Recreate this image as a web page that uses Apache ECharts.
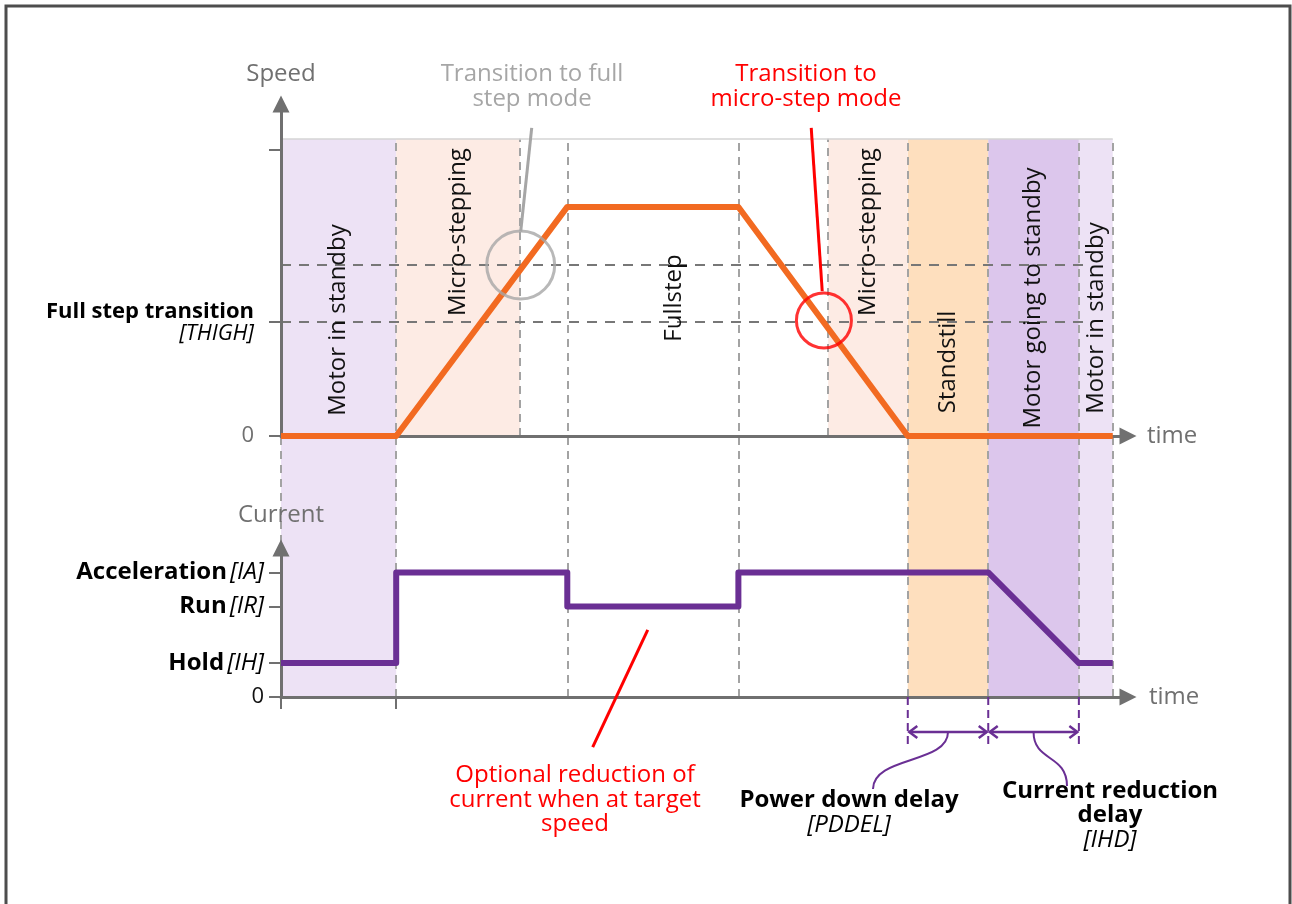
<!DOCTYPE html>
<html><head><meta charset="utf-8">
<script src="https://cdn.jsdelivr.net/npm/echarts@6/dist/echarts.min.js"></script>
<style>html,body{margin:0;padding:0;background:#fff}#c{width:1292px;height:904px}</style>
</head><body><div id="c"></div>
<script>
// ---------- DATA ----------
// phase boundaries along the time axis
const phaseEdges = [0, 13.6, 28.2, 64.6, 74.0, 83.5, 94.2, 98.2];
const phaseNames = ['Motor in standby', 'Micro-stepping', 'Fullstep', 'Micro-stepping', 'Standstill', 'Motor going to standby', 'Motor in standby'];
// dashed time markers spanning both panels / only the speed panel
const fullMarkerTimes = [0, 13.6, 33.8, 54.0, 74.0, 83.5, 94.2, 98.2];
const speedOnlyMarkerTimes = [28.2, 64.6];
// speed profile
const speedTimes = [0, 13.6, 33.8, 54.0, 74.0, 98.2];
const speedValues = [0, 0, 69.0, 69.0, 0, 0];
const speedTop = 89.5;            // top of shaded area
const speedUpperTick = 86.1;      // unlabeled tick
const fullStepUpThreshold = 51.5; // transition to full step
const thighValue = 34.3;          // THIGH
const thresholdEndTime = 94.7;
// current profile
const currentTimes = [0, 13.6, 13.6, 33.8, 33.8, 54.0, 54.0, 83.5, 94.2, 98.2];
const currentValues = [22.8, 22.8, 83.6, 83.6, 60.7, 60.7, 83.6, 83.6, 22.8, 22.8];
const currentLevelValues = [22.8, 60.7, 83.6];
const currentLevelNames = ['Hold', 'Run', 'Acceleration'];
const currentLevelParams = ['[IH]', '[IR]', '[IA]'];
// transition highlights
const fullStepCircle = [28.3, 51.5];
const microStepCircle = [64.1, 34.8];
// delays
const delayEdges = [74.0, 83.5, 94.2];
const delayNames = ['Power down delay', 'Current reduction\ndelay'];
const delayParams = ['[PDDEL]', '[IHD]'];

// ---------- STYLE / LAYOUT ----------
const FONT = '"Open Sans", "Noto Sans", sans-serif';
const FS = 24;
const AX = '#707070';
const phaseFill = ['#ede2f5', '#fdebe4', null, '#fdebe4', '#fedfbe', '#dcc6ec', '#ede2f5'];
const phaseFull = [true, false, false, false, true, true, true];
const phaseLabelY = [320, 232, 298, 232, 362, 298, 318];
const ORANGE = '#f26a21', PURPLE = '#6a2f94', RED = '#ff0000', GRAY = '#a6a6a6';

const chart = echarts.init(document.getElementById('c'), null, {renderer: 'canvas'});

function axisBase(extra) {
  return Object.assign({
    type: 'value', min: 0, max: 100, z: 3,
    splitLine: {show: false},
    axisLine: {show: true, lineStyle: {color: AX, width: 3}, symbol: ['none', 'triangle'], symbolSize: [17, 17]},
    axisTick: {show: false},
    axisLabel: {show: false},
    nameTextStyle: {color: AX, fontSize: FS, fontFamily: FONT}
  }, extra);
}
const hidden = (gi, max) => ({type: 'value', gridIndex: gi, min: 0, max: max, show: false});

const fullBands = [], topBands = [];
phaseNames.forEach((n, i) => {
  if (!phaseFill[i]) return;
  if (phaseFull[i]) fullBands.push([{xAxis: phaseEdges[i], itemStyle: {color: phaseFill[i]}}, {xAxis: phaseEdges[i + 1]}]);
  else topBands.push([{xAxis: phaseEdges[i], yAxis: 0, itemStyle: {color: phaseFill[i]}}, {xAxis: phaseEdges[i + 1], yAxis: speedTop}]);
});
const dashV = {color: '#a3a3a3', width: 2, type: [8, 6]};
const dashH = {color: '#777777', width: 2, type: [10, 8]};

const option = {
  animation: false,
  textStyle: {fontFamily: FONT},
  grid: [
    {left: 281, top: 104, width: 847, height: 332, outerBoundsMode: 'none', containLabel: false},
    {left: 281, top: 548, width: 847, height: 149, outerBoundsMode: 'none', containLabel: false},
    {left: 281, top: 139, width: 847, height: 558, outerBoundsMode: 'none', containLabel: false}
  ],
  xAxis: [
    axisBase({gridIndex: 0, name: 'time', nameLocation: 'end', nameGap: 19}),
    axisBase({gridIndex: 1, name: 'time', nameLocation: 'end', nameGap: 21,
      axisTick: {show: true, customValues: [0, 13.6], length: 12, lineStyle: {color: AX, width: 2}}}),
    hidden(2, 100)
  ],
  yAxis: [
    axisBase({gridIndex: 0, name: 'Speed', nameLocation: 'end', nameGap: 18,
      axisTick: {show: true, customValues: [0, thighValue, speedUpperTick], length: 12, lineStyle: {color: AX, width: 2}},
      axisLabel: {show: true, customValues: [0, thighValue], margin: 27, align: 'right',
        formatter: v => Math.abs(v) < 1e-6 ? '{z|0}' : '{b|Full step transition}\n{i|[THIGH]}',
        rich: {
          z: {fontSize: 22, color: AX, fontFamily: FONT},
          b: {fontSize: 22, fontWeight: 'bold', color: '#000', fontFamily: FONT, lineHeight: 24, align: 'right', padding: [3, 0, 0, 0]},
          i: {fontSize: 22, fontStyle: 'italic', color: '#000', fontFamily: FONT, lineHeight: 24, align: 'right'}
        }}}),
    axisBase({gridIndex: 1, name: 'Current', nameLocation: 'end', nameGap: 21,
      axisTick: {show: true, customValues: [0].concat(currentLevelValues), length: 12, lineStyle: {color: AX, width: 2}},
      axisLabel: {show: true, customValues: [0].concat(currentLevelValues), margin: 17, align: 'right',
        formatter: v => {
          const k = currentLevelValues.findIndex(c => Math.abs(c - v) < 1e-6);
          return k < 0 ? '{z|0}' : '{b|' + currentLevelNames[k] + '} {i|' + currentLevelParams[k] + '}';
        },
        rich: {
          z: {fontSize: 22, color: '#111', fontFamily: FONT},
          b: {fontSize: FS, fontWeight: 'bold', color: '#000', fontFamily: FONT},
          i: {fontSize: FS, fontStyle: 'italic', color: '#000', fontFamily: FONT}
        }}}),
    hidden(2, 1)
  ],
  series: [
    { // full-height phase bands & markers
      type: 'line', xAxisIndex: 2, yAxisIndex: 2, data: [[0, 0]], showSymbol: false, silent: true,
      lineStyle: {width: 0}, z: 1,
      markArea: {silent: true, z: 1, data: fullBands},
      markLine: {silent: true, z: 2, symbol: 'none', label: {show: false}, lineStyle: dashV,
        data: fullMarkerTimes.map(t => ({xAxis: t}))}
    },
    { // speed-panel bands & markers
      type: 'line', xAxisIndex: 0, yAxisIndex: 0, data: [[0, 0]], showSymbol: false, silent: true,
      lineStyle: {width: 0}, z: 1,
      markArea: {silent: true, z: 1, data: topBands},
      markLine: {silent: true, z: 2, symbol: 'none', label: {show: false},
        data: speedOnlyMarkerTimes.map(t => [{coord: [t, 0], lineStyle: dashV}, {coord: [t, speedTop]}])
          .concat([fullStepUpThreshold, thighValue].map(v => [{coord: [0, v], lineStyle: dashH}, {coord: [thresholdEndTime, v]}]))
          .concat([[{coord: [0, speedTop], lineStyle: {color: '#d4d4d4', width: 1.5, type: 'solid'}}, {coord: [phaseEdges[phaseEdges.length - 1], speedTop]}]])}
    },
    {
      name: 'Speed', type: 'line', xAxisIndex: 0, yAxisIndex: 0, z: 4, showSymbol: false, silent: true,
      data: speedTimes.map((t, i) => [t, speedValues[i]]),
      lineStyle: {color: ORANGE, width: 6, join: 'round'}
    },
    {
      name: 'Current', type: 'line', xAxisIndex: 1, yAxisIndex: 1, z: 4, showSymbol: false, silent: true,
      data: currentTimes.map((t, i) => [t, currentValues[i]]),
      lineStyle: {color: PURPLE, width: 6, join: 'round'}
    },
    {
      type: 'scatter', xAxisIndex: 0, yAxisIndex: 0, z: 6, silent: true, data: [fullStepCircle],
      symbolSize: 68, itemStyle: {color: 'rgba(0,0,0,0)', borderColor: GRAY, borderWidth: 3},
      markLine: {silent: true, z: 6, symbol: 'none', label: {show: false}, lineStyle: {color: GRAY, width: 3, type: 'solid'},
        data: [[{coord: [29.6, 92.8]}, {coord: [28.3, 61.6]}]]}
    },
    {
      type: 'scatter', xAxisIndex: 0, yAxisIndex: 0, z: 6, silent: true, data: [microStepCircle],
      symbolSize: 55, itemStyle: {color: 'rgba(0,0,0,0)', borderColor: RED, borderWidth: 3},
      markLine: {silent: true, z: 6, symbol: 'none', label: {show: false}, lineStyle: {color: RED, width: 3, type: 'solid'},
        data: [[{coord: [62.6, 92.8]}, {coord: [63.9, 43.6]}]]}
    }
  ]
};
chart.setOption(option);

// ---------- annotations ----------
const g = [];
const txt = (x, y, text, fill, font, extra) => ({type: 'text', x: x, y: y, z: 10, silent: true,
  style: Object.assign({text: text, fill: fill, font: font, align: 'center', verticalAlign: 'middle'}, extra || {})});
const REG = FS + 'px ' + FONT, BOLD = 'bold ' + FS + 'px ' + FONT, ITAL = 'italic ' + FS + 'px ' + FONT;

// frame
g.push({type: 'rect', shape: {x: 6, y: 6, width: 1284, height: 930}, style: {fill: 'none', stroke: '#4d4d4d', lineWidth: 3}, z: 10, silent: true});

// phase labels (rotated)
phaseNames.forEach((n, i) => {
  const cx = chart.convertToPixel({xAxisIndex: 0}, (phaseEdges[i] + phaseEdges[i + 1]) / 2);
  const t = txt(cx, phaseLabelY[i], n, '#111', REG);
  t.rotation = Math.PI / 2;
  g.push(t);
});

// transition captions
g.push(txt(532, 62, 'Transition to full\nstep mode', GRAY, REG, {verticalAlign: 'top', lineHeight: 25}));
g.push(txt(806, 62, 'Transition to\nmicro-step mode', RED, REG, {verticalAlign: 'top', lineHeight: 25}));

// optional current reduction note
const p1 = chart.convertToPixel({gridIndex: 1}, [43.3, 45.0]);
const p2 = chart.convertToPixel({gridIndex: 1}, [36.8, -33.6]);
g.push({type: 'line', shape: {x1: p1[0], y1: p1[1], x2: p2[0], y2: p2[1]}, style: {stroke: RED, lineWidth: 3}, z: 10, silent: true});
g.push(txt(575, 763, 'Optional reduction of\ncurrent when at target\nspeed', RED, REG, {verticalAlign: 'top', lineHeight: 24.5}));

// delay brackets
const axY = chart.convertToPixel({yAxisIndex: 1}, 0);
const dx = delayEdges.map(t => chart.convertToPixel({xAxisIndex: 1}, t));
const arrowY = axY + 35;
dx.forEach(x => g.push({type: 'line', shape: {x1: x, y1: axY, x2: x, y2: axY + 48},
  style: {stroke: PURPLE, lineWidth: 2, lineDash: [8, 5]}, z: 10, silent: true}));
for (let i = 0; i < 2; i++) {
  const a = dx[i] + 1.5, b = dx[i + 1] - 1.5;
  g.push({type: 'line', shape: {x1: a, y1: arrowY, x2: b, y2: arrowY}, style: {stroke: PURPLE, lineWidth: 2.5}, z: 10, silent: true});
  g.push({type: 'polyline', shape: {points: [[a + 8, arrowY - 6], [a, arrowY], [a + 8, arrowY + 6]]}, style: {stroke: PURPLE, lineWidth: 2.5, fill: 'none'}, z: 10, silent: true});
  g.push({type: 'polyline', shape: {points: [[b - 8, arrowY - 6], [b, arrowY], [b - 8, arrowY + 6]]}, style: {stroke: PURPLE, lineWidth: 2.5, fill: 'none'}, z: 10, silent: true});
}
const m1 = (dx[0] + dx[1]) / 2, m2 = (dx[1] + dx[2]) / 2;
g.push({type: 'bezierCurve', shape: {x1: m1, y1: arrowY, cpx1: m1, cpy1: arrowY + 32, cpx2: 873, cpy2: arrowY + 24, x2: 873, y2: 789},
  style: {stroke: PURPLE, lineWidth: 2, fill: 'none'}, z: 10, silent: true});
g.push({type: 'bezierCurve', shape: {x1: m2, y1: arrowY, cpx1: m2, cpy1: arrowY + 30, cpx2: 1067, cpy2: arrowY + 22, x2: 1067, y2: 786},
  style: {stroke: PURPLE, lineWidth: 2, fill: 'none'}, z: 10, silent: true});

g.push(txt(849, 800, delayNames[0], '#000', BOLD));
g.push(txt(849, 825, delayParams[0], '#000', ITAL));
g.push(txt(1110, 779, delayNames[1], '#000', BOLD, {verticalAlign: 'top', lineHeight: 24}));
g.push(txt(1110, 840, delayParams[1], '#000', ITAL));

chart.setOption({graphic: g});
</script>
</body></html>
